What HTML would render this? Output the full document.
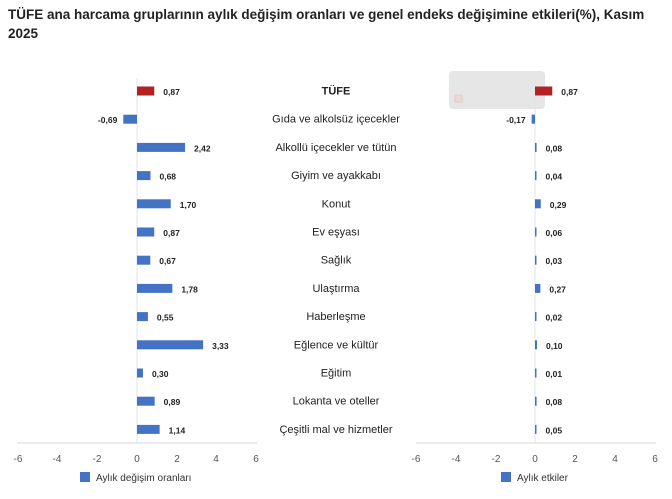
<!DOCTYPE html>
<html><head><meta charset="utf-8"><style>
body{margin:0;background:#fff;width:672px;height:499px;overflow:hidden;font-family:"Liberation Sans",sans-serif}
.t{position:absolute;left:8px;top:5px;font-weight:bold;font-size:13.5px;line-height:19px;color:#222;width:660px}
</style></head><body>
<div class="t">TÜFE ana harcama gruplarının aylık değişim oranları ve genel endeks değişimine etkileri(%), Kasım 2025</div>
<svg width="672" height="499" style="position:absolute;left:0;top:0" font-family="Liberation Sans, sans-serif">
<rect x="449" y="71" width="96" height="38" rx="4" fill="#e6e6e6"/>
<rect x="455" y="95" width="7" height="7" fill="#f0d8d8" stroke="#e4caca"/>
<line x1="137" y1="78" x2="137" y2="443" stroke="#dde3ee"/>
<line x1="535" y1="78" x2="535" y2="443" stroke="#dde3ee"/>
<line x1="17" y1="443" x2="257" y2="443" stroke="#d9d9d9"/>
<line x1="416" y1="443" x2="656" y2="443" stroke="#d9d9d9"/>
<g font-size="10" fill="#555" text-anchor="middle">
<text x="18" y="462">-6</text><text x="57" y="462">-4</text><text x="97" y="462">-2</text><text x="137" y="462">0</text><text x="177" y="462">2</text><text x="216" y="462">4</text><text x="256" y="462">6</text>
<text x="416" y="462">-6</text><text x="456" y="462">-4</text><text x="496" y="462">-2</text><text x="535" y="462">0</text><text x="575" y="462">2</text><text x="615" y="462">4</text><text x="655" y="462">6</text>
</g>
<rect x="80" y="472" width="10" height="10" fill="#4472c4"/>
<text x="96" y="481" font-size="10" fill="#333">Aylık değişim oranları</text>
<rect x="501" y="472" width="10" height="10" fill="#4472c4"/>
<text x="517" y="481" font-size="10" fill="#333">Aylık etkiler</text>
<g id="rows" font-size="8.5" font-weight="bold" fill="#222"></g>
<g id="labs" font-size="11" fill="#222" text-anchor="middle"></g>
</svg>
<script>
var d=[["TÜFE",0.87,0.87],["Gıda ve alkolsüz içecekler",-0.69,-0.17],["Alkollü içecekler ve tütün",2.42,0.08],["Giyim ve ayakkabı",0.68,0.04],["Konut",1.70,0.29],["Ev eşyası",0.87,0.06],["Sağlık",0.67,0.03],["Ulaştırma",1.78,0.27],["Haberleşme",0.55,0.02],["Eğlence ve kültür",3.33,0.10],["Eğitim",0.30,0.01],["Lokanta ve oteller",0.89,0.08],["Çeşitli mal ve hizmetler",1.14,0.05]];
var s="",l="",k=19.85;
function f(v){return v.toFixed(2).replace(".",",")}
d.forEach(function(r,i){var y=91+i*28.2;var c=i==0?"#b22222":"#4472c4";
[[137,r[1]],[535,r[2]]].forEach(function(p){var w=Math.max(Math.abs(p[1])*k,1.5);var x=p[1]<0?p[0]-w:p[0];
s+='<rect x="'+x+'" y="'+(y-4.5)+'" width="'+w+'" height="9" fill="'+c+'"/>';
var tx=p[1]<0?x-6:x+w+9;s+='<text x="'+tx+'" y="'+(y+4)+'"'+(p[1]<0?' text-anchor="end"':'')+'>'+f(p[1])+'</text>';});
l+='<text x="336" y="'+(y+3.5)+'"'+(i==0?' font-weight="bold"':'')+'>'+r[0]+'</text>';});
document.getElementById("rows").innerHTML=s;document.getElementById("labs").innerHTML=l;
</script>
</body></html>
